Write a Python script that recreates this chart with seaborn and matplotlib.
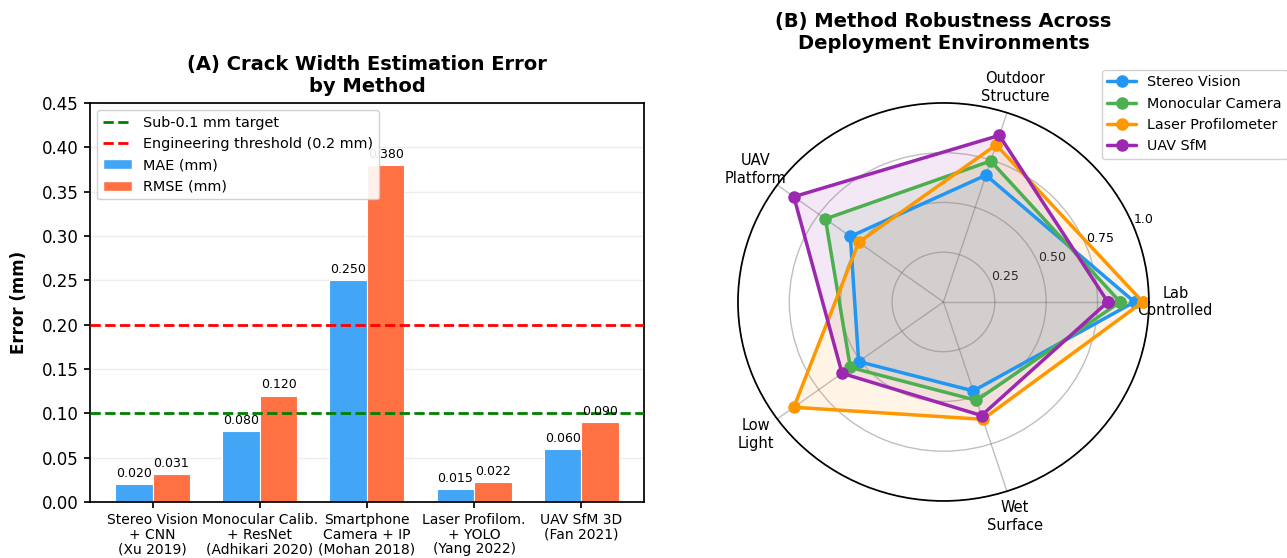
import numpy as np
import pandas as pd
import matplotlib
matplotlib.use("Agg")
import matplotlib.pyplot as plt
from matplotlib.lines import Line2D
from matplotlib.patches import Patch
from matplotlib.ticker import FormatStrFormatter
import seaborn as sns

# ----------------------------------------------------------
# Data
# ----------------------------------------------------------

methods = [
    "Stereo Vision\n+ CNN\n(Xu 2019)",
    "Monocular Calib.\n+ ResNet\n(Adhikari 2020)",
    "Smartphone\nCamera + IP\n(Mohan 2018)",
    "Laser Profilom.\n+ YOLO\n(Yang 2022)",
    "UAV SfM 3D\n(Fan 2021)",
]
mae = [0.020, 0.080, 0.250, 0.015, 0.060]
rmse = [0.031, 0.120, 0.380, 0.022, 0.090]

environments = ["Lab\nControlled", "Outdoor\nStructure", "UAV\nPlatform",
                "Low\nLight", "Wet\nSurface"]
radar_series = ["Stereo Vision", "Monocular Camera", "Laser Profilometer", "UAV SfM"]
stereo_scores = [0.93, 0.67, 0.56, 0.51, 0.47]
mono_scores = [0.86, 0.745, 0.71, 0.56, 0.52]
laser_scores = [0.97, 0.83, 0.51, 0.90, 0.62]
uav_scores = [0.80, 0.88, 0.90, 0.61, 0.60]

# ----------------------------------------------------------
# Style
# ----------------------------------------------------------

sns.set_theme(style="ticks")
plt.rcParams["font.family"] = ["DejaVu Sans"]
plt.rcParams["text.color"] = "black"
plt.rcParams["axes.labelcolor"] = "black"
plt.rcParams["xtick.color"] = "black"
plt.rcParams["ytick.color"] = "black"

bar_colors = {"MAE (mm)": "#42A5F5", "RMSE (mm)": "#FF7043"}
radar_colors = ["#2196F3", "#4CAF50", "#FF9800", "#9C27B0"]

fig = plt.figure(figsize=(12.87, 5.58), dpi=100)

# ==========================================================
# (A) Bar chart
# ==========================================================

ax1 = fig.add_axes([0.0699, 0.1004, 0.4305, 0.715])

df = pd.DataFrame({
    "method": methods * 2,
    "value": mae + rmse,
    "metric": ["MAE (mm)"] * len(methods) + ["RMSE (mm)"] * len(methods),
})

ax1.axhline(0.1, color="green", linestyle="--", linewidth=2, zorder=3)
ax1.axhline(0.2, color="red", linestyle="--", linewidth=2, zorder=3)

sns.barplot(
    data=df, x="method", y="value", hue="metric",
    palette=bar_colors, saturation=1, width=0.7,
    edgecolor="white", linewidth=0.8,
    legend=False, ax=ax1, zorder=2
)

for cont in ax1.containers:
    ax1.bar_label(cont, fmt="%.3f", padding=3, fontsize=9)

ax1.set_xlim(-0.585, 4.585)
ax1.set_ylim(0, 0.45)
ax1.set_yticks(np.arange(0, 0.451, 0.05))
ax1.yaxis.set_major_formatter(FormatStrFormatter("%.2f"))
ax1.tick_params(axis="y", labelsize=12, length=4.5, pad=3.5)
ax1.tick_params(axis="x", labelsize=10, length=4.5, pad=3.5)
for lbl in ax1.get_xticklabels():
    lbl.set_linespacing(1.05)
ax1.grid(axis="y", alpha=0.35)
ax1.set_axisbelow(True)
ax1.set_xlabel("")
ax1.set_ylabel("Error (mm)", fontsize=12, fontweight="bold", labelpad=10)
ax1.set_title("(A) Crack Width Estimation Error\nby Method",
              fontsize=14, fontweight="bold", pad=8)
for s in ax1.spines.values():
    s.set_color("black")

handles = [
    Line2D([0], [0], color="green", linestyle="--", linewidth=2, label="Sub-0.1 mm target"),
    Line2D([0], [0], color="red", linestyle="--", linewidth=2, label="Engineering threshold (0.2 mm)"),
    Patch(facecolor=bar_colors["MAE (mm)"], label="MAE (mm)"),
    Patch(facecolor=bar_colors["RMSE (mm)"], label="RMSE (mm)"),
]
ax1.legend(handles=handles, loc="upper left", fontsize=10.4, framealpha=0.9)

# ==========================================================
# (B) Radar chart
# ==========================================================

ax2 = fig.add_axes([0.5734, 0.1022, 0.3193, 0.7133], projection="polar")
ax2.set_aspect("auto")

angles = np.linspace(0, 2 * np.pi, len(environments), endpoint=False)
closed = np.concatenate([angles, angles[:1]])

for name, scores, col in zip(radar_series,
                             [stereo_scores, mono_scores, laser_scores, uav_scores],
                             radar_colors):
    vals = list(scores) + [scores[0]]
    ax2.plot(closed, vals, "o-", color=col, linewidth=2.5, markersize=8, label=name)
    ax2.fill(closed, vals, color=col, alpha=0.1)

ax2.set_xticks(angles)
ax2.set_xticklabels(environments, fontsize=10.5)
ax2.tick_params(axis="x", pad=6)
ax2.set_ylim(0, 1.0)
ax2.set_yticks([0.25, 0.5, 0.75, 1.0])
ax2.set_yticklabels(["0.25", "0.50", "0.75", "1.0"], fontsize=9)
ax2.grid(color="gray", alpha=0.5)
ax2.spines["polar"].set_color("black")
ax2.set_title("(B) Method Robustness Across\nDeployment Environments",
              fontsize=14, fontweight="bold", pad=16)

ax2.legend(loc="upper left", bbox_to_anchor=(0.856, 0.875), borderaxespad=0,
           bbox_transform=fig.transFigure, fontsize=10.3, framealpha=0.9)

plt.savefig("out.png", dpi=100)
